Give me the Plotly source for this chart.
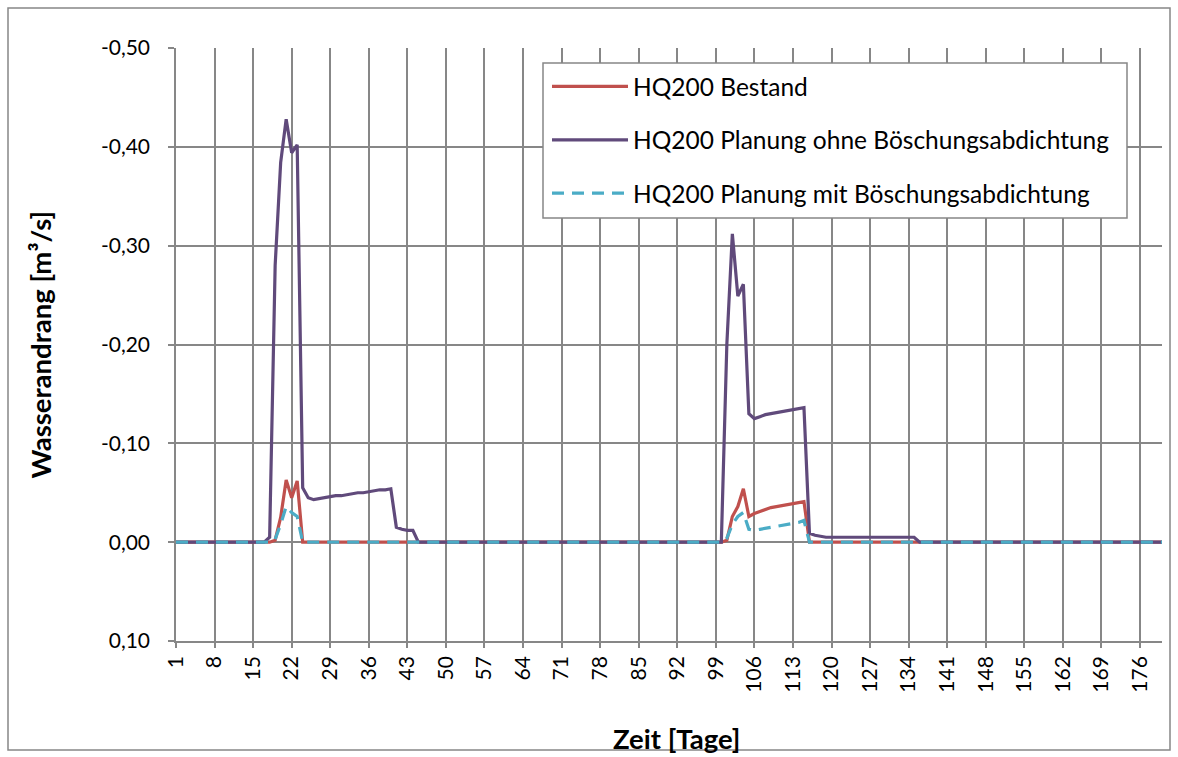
import plotly.graph_objects as go

# Categories (days 1..180)
days = list(range(1, 181))

# Tick labels
x_tickvals = [1, 8, 15, 22, 29, 36, 43, 50, 57, 64, 71, 78, 85, 92, 99, 106, 113,
              120, 127, 134, 141, 148, 155, 162, 169, 176]
y_tickvals = [-0.5, -0.4, -0.3, -0.2, -0.1, 0.0, 0.1]
y_ticktext = ["-0,50", "-0,40", "-0,30", "-0,20", "-0,10", "0,00", "0,10"]

# HQ200 Bestand
bestand = [
    0, 0, 0, 0, 0, 0, 0, 0, 0, 0,                       # 1-10
    0, 0, 0, 0, 0, 0, 0, 0, -0.002, -0.025,             # 11-20
    -0.063, -0.045, -0.062, 0, 0, 0, 0, 0, 0, 0,        # 21-30
    0, 0, 0, 0, 0, 0, 0, 0, 0, 0,                       # 31-40
    0, 0, 0, 0, 0, 0, 0, 0, 0, 0,                       # 41-50
    0, 0, 0, 0, 0, 0, 0, 0, 0, 0,                       # 51-60
    0, 0, 0, 0, 0, 0, 0, 0, 0, 0,                       # 61-70
    0, 0, 0, 0, 0, 0, 0, 0, 0, 0,                       # 71-80
    0, 0, 0, 0, 0, 0, 0, 0, 0, 0,                       # 81-90
    0, 0, 0, 0, 0, 0, 0, 0, 0, 0,                       # 91-100
    -0.002, -0.026, -0.036, -0.054, -0.026, -0.029, -0.031, -0.033, -0.035, -0.036,  # 101-110
    -0.037, -0.038, -0.039, -0.040, -0.041, 0, 0, 0, 0, 0,                           # 111-120
    0, 0, 0, 0, 0, 0, 0, 0, 0, 0,                       # 121-130
    0, 0, 0, 0, 0, 0, 0, 0, 0, 0,                       # 131-140
    0, 0, 0, 0, 0, 0, 0, 0, 0, 0,                       # 141-150
    0, 0, 0, 0, 0, 0, 0, 0, 0, 0,                       # 151-160
    0, 0, 0, 0, 0, 0, 0, 0, 0, 0,                       # 161-170
    0, 0, 0, 0, 0, 0, 0, 0, 0, 0,                       # 171-180
]

# HQ200 Planung ohne Böschungsabdichtung
ohne = [
    0, 0, 0, 0, 0, 0, 0, 0, 0, 0,                       # 1-10
    0, 0, 0, 0, 0, 0, 0, -0.005, -0.280, -0.384,        # 11-20
    -0.428, -0.394, -0.402, -0.055, -0.045, -0.043, -0.044, -0.045, -0.046, -0.047,  # 21-30
    -0.047, -0.048, -0.049, -0.050, -0.050, -0.051, -0.052, -0.053, -0.053, -0.054,  # 31-40
    -0.015, -0.013, -0.012, -0.012, 0, 0, 0, 0, 0, 0,   # 41-50
    0, 0, 0, 0, 0, 0, 0, 0, 0, 0,                       # 51-60
    0, 0, 0, 0, 0, 0, 0, 0, 0, 0,                       # 61-70
    0, 0, 0, 0, 0, 0, 0, 0, 0, 0,                       # 71-80
    0, 0, 0, 0, 0, 0, 0, 0, 0, 0,                       # 81-90
    0, 0, 0, 0, 0, 0, 0, 0, 0, 0,                       # 91-100
    -0.200, -0.312, -0.249, -0.261, -0.130, -0.125, -0.127, -0.129, -0.130, -0.131,  # 101-110
    -0.132, -0.133, -0.134, -0.135, -0.136, -0.009, -0.007, -0.006, -0.005, -0.005,  # 111-120
    -0.005, -0.005, -0.005, -0.005, -0.005, -0.005, -0.005, -0.005, -0.005, -0.005,  # 121-130
    -0.005, -0.005, -0.005, -0.005, -0.005, 0, 0, 0, 0, 0,                           # 131-140
    0, 0, 0, 0, 0, 0, 0, 0, 0, 0,                       # 141-150
    0, 0, 0, 0, 0, 0, 0, 0, 0, 0,                       # 151-160
    0, 0, 0, 0, 0, 0, 0, 0, 0, 0,                       # 161-170
    0, 0, 0, 0, 0, 0, 0, 0, 0, 0,                       # 171-180
]

# HQ200 Planung mit Böschungsabdichtung
mit = [
    0, 0, 0, 0, 0, 0, 0, 0, 0, 0,                       # 1-10
    0, 0, 0, 0, 0, 0, 0, 0, -0.003, -0.018,             # 11-20
    -0.036, -0.030, -0.026, 0, 0, 0, 0, 0, 0, 0,        # 21-30
    0, 0, 0, 0, 0, 0, 0, 0, 0, 0,                       # 31-40
    0, 0, 0, 0, 0, 0, 0, 0, 0, 0,                       # 41-50
    0, 0, 0, 0, 0, 0, 0, 0, 0, 0,                       # 51-60
    0, 0, 0, 0, 0, 0, 0, 0, 0, 0,                       # 61-70
    0, 0, 0, 0, 0, 0, 0, 0, 0, 0,                       # 71-80
    0, 0, 0, 0, 0, 0, 0, 0, 0, 0,                       # 81-90
    0, 0, 0, 0, 0, 0, 0, 0, 0, 0,                       # 91-100
    -0.004, -0.018, -0.026, -0.030, -0.013, -0.012, -0.013, -0.014, -0.015, -0.016,  # 101-110
    -0.017, -0.018, -0.019, -0.020, -0.022, 0, 0, 0, 0, 0,                           # 111-120
    0, 0, 0, 0, 0, 0, 0, 0, 0, 0,                       # 121-130
    0, 0, 0, 0, 0, 0, 0, 0, 0, 0,                       # 131-140
    0, 0, 0, 0, 0, 0, 0, 0, 0, 0,                       # 141-150
    0, 0, 0, 0, 0, 0, 0, 0, 0, 0,                       # 151-160
    0, 0, 0, 0, 0, 0, 0, 0, 0, 0,                       # 161-170
    0, 0, 0, 0, 0, 0, 0, 0, 0, 0,                       # 171-180
]

series = [
    ("HQ200 Bestand", bestand, "#C0504D", "solid"),
    ("HQ200 Planung ohne Böschungsabdichtung", ohne, "#604A7B", "solid"),
    ("HQ200 Planung mit Böschungsabdichtung", mit, "#4BACC6", "12px,8px"),
]

FONT = "Lato"
GRID = "#878787"
TICK_SIZE = 21
LEGEND_SIZE = 24.5
TITLE_SIZE = 27.5

fig = go.Figure()
for i, (name, vals, color, dash) in enumerate(series):
    fig.add_trace(go.Scatter(
        x=days, y=vals, mode="lines", name=name, legendgroup=f"g{i}",
        line=dict(color=color, width=3.2, dash=dash),
    ))

W, H = 1178, 757
L, R, T, B = 176, 16, 48, 116
pw, ph = W - L - R, H - T - B

def px2x(px):
    return (px - L) / pw

def px2y(py):
    return (H - B - py) / ph

fig.update_layout(
    width=W, height=H,
    margin=dict(l=L, r=R, t=T, b=B, pad=0),
    paper_bgcolor="white", plot_bgcolor="white",
    font=dict(family=FONT, size=TICK_SIZE, color="black"),
    showlegend=True,
    legend=dict(
        x=px2x(547), y=px2y(64), xanchor="left", yanchor="top",
        borderwidth=0, bgcolor="rgba(0,0,0,0)",
        font=dict(family=FONT, size=LEGEND_SIZE, color="black"),
        itemwidth=76, tracegroupgap=18.5,
    ),
    xaxis=dict(
        range=[1, 180], tickmode="array", tickvals=x_tickvals,
        tickangle=-90, showgrid=True, gridcolor=GRID, gridwidth=1.5,
        zeroline=False, showline=True, linecolor=GRID, linewidth=1.5,
        ticks="outside", ticklen=5, tickcolor=GRID, tickwidth=1.5,
        ticklabelstandoff=0,
        tickfont=dict(family=FONT, size=TICK_SIZE, color="black"),
    ),
    yaxis=dict(
        range=[0.1, -0.5], tickmode="array", tickvals=y_tickvals, ticktext=y_ticktext,
        showgrid=True, gridcolor=GRID, gridwidth=1.5,
        zeroline=False, showline=True, linecolor=GRID, linewidth=1.5,
        ticks="outside", ticklen=6, tickcolor=GRID, tickwidth=1.5,
        ticklabelstandoff=14,
        tickfont=dict(family=FONT, size=TICK_SIZE, color="black"),
    ),
    annotations=[
        dict(text="<b>Zeit [Tage]</b>", xref="paper", yref="paper",
             x=px2x(676), y=px2y(738), xanchor="center", yanchor="middle",
             showarrow=False, font=dict(family=FONT, size=TITLE_SIZE, color="black")),
        dict(text="<b>Wasserandrang [m³/s]</b>", xref="paper", yref="paper",
             x=px2x(40), y=0.5, xanchor="center", yanchor="middle", textangle=-90,
             showarrow=False, font=dict(family=FONT, size=TITLE_SIZE, color="black")),
    ],
    shapes=[
        # chart-area border
        dict(type="rect", xref="paper", yref="paper",
             x0=px2x(8), x1=px2x(1170), y0=px2y(750), y1=px2y(8),
             line=dict(color=GRID, width=1.5), fillcolor="rgba(0,0,0,0)", layer="below"),
        # legend box
        dict(type="rect", xref="paper", yref="paper",
             x0=px2x(543), x1=px2x(1127), y0=px2y(218), y1=px2y(63),
             line=dict(color=GRID, width=1.5), fillcolor="white", layer="above"),
    ],
)

fig.write_html("out.html")
